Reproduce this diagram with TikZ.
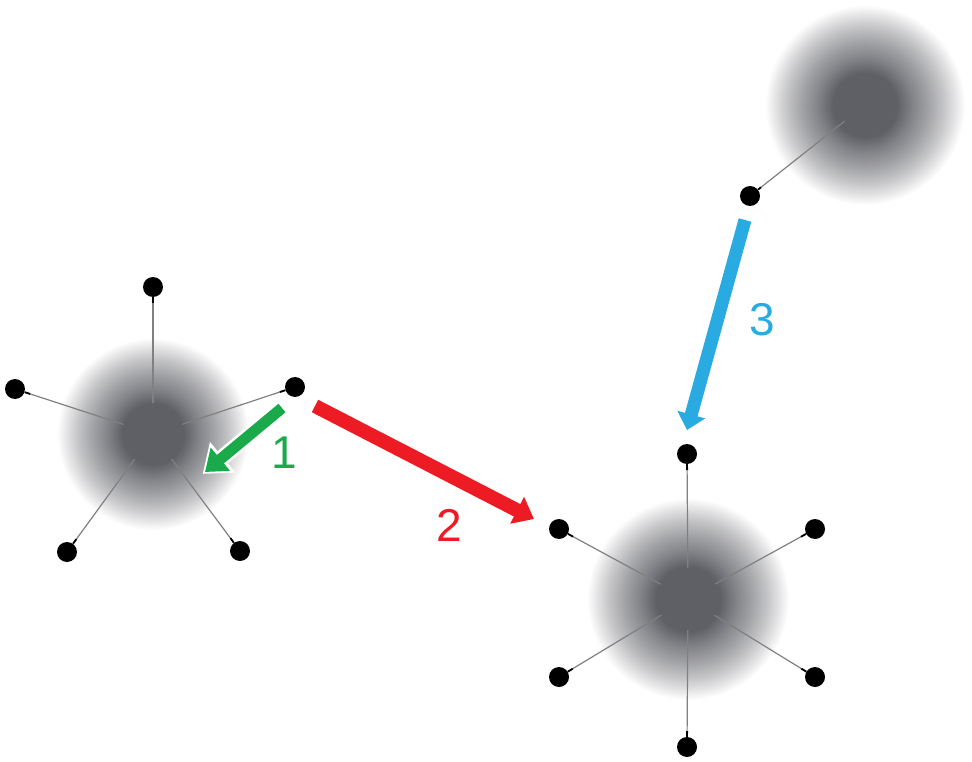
\documentclass[tikz,border=0pt]{standalone}
\usepackage{fontspec}
\setmainfont{Liberation Sans}
\usetikzlibrary{arrows.meta,calc}
\definecolor{core}{RGB}{95,96,102}
\definecolor{grn}{RGB}{27,170,75}
\definecolor{rd}{RGB}{237,28,36}
\definecolor{blu}{RGB}{41,171,226}
\pgfdeclareradialshading{glow}{\pgfpoint{0bp}{0bp}}{color(0bp)=(core); color(8bp)=(core); color(11.8bp)=(core!78!white); color(15.8bp)=(core!58!white); color(19.7bp)=(core!36!white); color(22.4bp)=(core!18!white); color(25bp)=(white); color(50bp)=(white)}
\tikzset{
  dot/.style={circle,fill=black,minimum size=20pt,inner sep=0pt},
  spoke/.style={draw=black!50,line width=1.2pt,shorten <=31pt},
  spokeend/.style={draw=black,line width=1.8pt},
  lab/.style={font=\fontsize{46}{46}\selectfont,inner sep=0pt}
}
\begin{document}
\begin{tikzpicture}[x=1pt,y=-1pt]
\useasboundingbox (0,0) rectangle (972,762);
% centres
\coordinate (c1) at (153,434);
\coordinate (c2) at (688,599);
\coordinate (c3) at (865,105);
\shade[shading=glow] (c1) circle (96pt);
\shade[shading=glow] (c2) circle (101pt);
\shade[shading=glow] (c3) circle (100pt);
% left cluster dots
\node[dot] (a1) at (153,287) {};
\node[dot] (a2) at (15,389) {};
\node[dot] (a3) at (295,387) {};
\node[dot] (a4) at (67,552) {};
\node[dot] (a5) at (240,551) {};
% right cluster dots
\node[dot] (b1) at (687,454) {};
\node[dot] (b2) at (559,529) {};
\node[dot] (b3) at (815,529) {};
\node[dot] (b4) at (559,677) {};
\node[dot] (b5) at (815,677) {};
\node[dot] (b6) at (687,747) {};
% top right dot
\node[dot] (t1) at (750,196) {};
% spokes
\foreach \d in {a1,a2,a3,a4,a5}{
  \draw[spoke] (c1) -- (\d);
  \draw[spokeend] (\d) -- ($(\d)!16pt!(c1)$);
}
\foreach \d in {b1,b2,b3,b4,b5,b6}{
  \draw[spoke] (c2) -- (\d);
  \draw[spokeend] (\d) -- ($(\d)!16pt!(c2)$);
}
\draw[spoke,shorten <=26pt] (c3) -- (t1);
\draw[spokeend] (t1) -- ($(t1)!14pt!(c3)$);
% arrows
\coordinate (g0) at (282,408);
\coordinate (g1) at (205,472);
\coordinate (r0) at (315,406);
\coordinate (r1) at (534,519);
\coordinate (u0) at (745,220);
\coordinate (u1) at (687,430);
\draw[white,line width=16pt,-{Triangle[length=26pt,width=38pt]},shorten <=-2pt,shorten >=-3pt] (g0) -- (g1);
\draw[grn,line width=11pt,-{Triangle[length=20pt,width=29pt]}] (g0) -- (g1);
\draw[rd,line width=14pt,-{Triangle[length=19pt,width=29pt]}] (r0) -- (r1);
\draw[blu,line width=13pt,-{Triangle[length=16pt,width=28pt]}] (u0) -- (u1);
% labels
\node[lab,text=grn] (n1) at (284,453) {1};
\node[lab,text=rd] (n2) at (449,525) {2};
\node[lab,text=blu] (n3) at (762,320) {3};
\end{tikzpicture}
\end{document}
